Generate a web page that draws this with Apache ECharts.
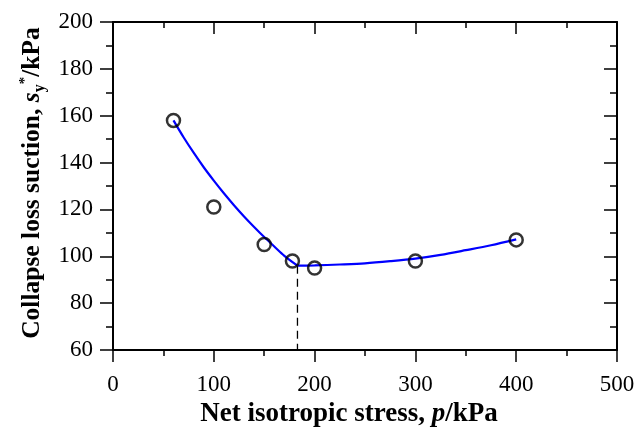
<!DOCTYPE html>
<html>
<head>
<meta charset="utf-8">
<script src="https://cdn.jsdelivr.net/npm/echarts@6/dist/echarts.min.js"></script>
<style>
  html, body { margin: 0; padding: 0; background: #fff; }
  #chart { width: 644px; height: 427px; }
</style>
</head>
<body>
<div id="chart"></div>
<script>
// Measured collapse loss suction at each net isotropic stress
const stressP = [60, 100, 150, 178, 200, 300, 400];
const suctionSy = [158, 121, 105, 98, 95, 98, 107];

// Fitted curve, falling branch (up to the yield point)
const fitLeftP = [60, 70, 80, 90, 100, 110, 120, 130, 140, 150, 160, 170, 183];
const fitLeftS = [158, 150.8, 144.2, 138, 132.3, 126.9, 121.8, 117, 112.5, 108.2, 104.2, 100.2, 96];

// Fitted curve, rising branch
const fitRightP = [183, 200, 225, 250, 275, 300, 325, 350, 375, 400];
const fitRightS = [96, 96.1, 96.5, 97, 97.9, 99, 100.6, 102.6, 104.7, 107.2];

// Vertical marker at the minimum of the curve
const yieldP = 183;
const yieldS = 96;

const xTicks = { min: 0, max: 500, interval: 100 };
const yTicks = { min: 60, max: 200, interval: 20 };

const pairs = (xs, ys) => xs.map((x, i) => [x, ys[i]]);

const serif = 'Liberation Serif';
const axisColor = '#000';

const chart = echarts.init(document.getElementById('chart'), null, { renderer: 'canvas' });

const baseX = {
  type: 'value',
  min: xTicks.min, max: xTicks.max, interval: xTicks.interval,
  splitLine: { show: false },
  axisLine: { show: true, onZero: false, lineStyle: { color: axisColor, width: 2 } },
  minorTick: { show: true, splitNumber: 2, length: 6, lineStyle: { color: axisColor, width: 1.5 } }
};
const baseY = {
  type: 'value',
  min: yTicks.min, max: yTicks.max, interval: yTicks.interval,
  splitLine: { show: false },
  axisLine: { show: true, onZero: false, lineStyle: { color: axisColor, width: 2 } },
  minorTick: { show: true, splitNumber: 2, length: 7, lineStyle: { color: axisColor, width: 1.5 } }
};

const richStyles = (size) => ({
  b: { fontFamily: serif, fontSize: size, fontWeight: 'bold', color: '#000', lineHeight: 30 },
  i: { fontFamily: serif, fontSize: size, fontWeight: 'bold', fontStyle: 'italic', color: '#000', lineHeight: 30 },
  sub: { fontFamily: serif, fontSize: 16, fontWeight: 'bold', color: '#000', lineHeight: 10, verticalAlign: 'bottom' },
  sup: { fontFamily: serif, fontSize: 15, fontWeight: 'bold', color: '#000', lineHeight: 10, verticalAlign: 'top' }
});

chart.setOption({
  animation: false,
  backgroundColor: '#fff',
  grid: { left: 113, right: 27, top: 22, bottom: 77, containLabel: false, outerBoundsMode: 'none' },
  xAxis: [
    Object.assign({}, baseX, {
      position: 'bottom',
      axisTick: { show: true, inside: false, length: 12, lineStyle: { color: axisColor, width: 1.5 } },
      axisLabel: { fontFamily: serif, fontSize: 23, color: '#000', margin: 23 },
      name: '{b|Net isotropic stress, }{i|p}{b|/kPa}',
      nameLocation: 'middle',
      nameGap: 49,
      nameTextStyle: { rich: richStyles(27), padding: [0, 32, 0, 0] }
    }),
    Object.assign({}, baseX, {
      position: 'top',
      axisTick: { show: true, inside: true, length: 12, lineStyle: { color: axisColor, width: 1.5 } },
      axisLabel: { show: false }
    })
  ],
  yAxis: [
    Object.assign({}, baseY, {
      position: 'left',
      axisTick: { show: true, inside: false, length: 13, lineStyle: { color: axisColor, width: 1.5 } },
      axisLabel: { fontFamily: serif, fontSize: 23, color: '#000', margin: 20 },
      name: '{b|Collapse loss suction, }{i|s}{sub|y}{sup|*}{b|/kPa}',
      nameLocation: 'middle',
      nameGap: 63,
      nameTextStyle: { rich: richStyles(25.5), padding: [0, 0, 0, 6] }
    }),
    Object.assign({}, baseY, {
      position: 'right',
      axisTick: { show: true, inside: true, length: 13, lineStyle: { color: axisColor, width: 1.5 } },
      axisLabel: { show: false }
    })
  ],
  series: [
    {
      type: 'line',
      data: [[yieldP, yieldS], [yieldP, yTicks.min]],
      symbol: 'none',
      lineStyle: { color: '#000', width: 1.3, type: [8, 5] },
      z: 2
    },
    {
      type: 'line',
      data: pairs(fitLeftP, fitLeftS),
      smooth: 0.3,
      symbol: 'none',
      lineStyle: { color: '#0000ff', width: 2.2 },
      z: 3
    },
    {
      type: 'line',
      data: pairs(fitRightP, fitRightS),
      smooth: 0.3,
      symbol: 'none',
      lineStyle: { color: '#0000ff', width: 2.2 },
      z: 3
    },
    {
      type: 'scatter',
      data: pairs(stressP, suctionSy),
      symbol: 'circle',
      symbolSize: 13,
      itemStyle: { color: 'rgba(255,255,255,0)', borderColor: '#000', borderWidth: 2.5 },
      z: 4
    }
  ]
});
</script>
</body>
</html>
